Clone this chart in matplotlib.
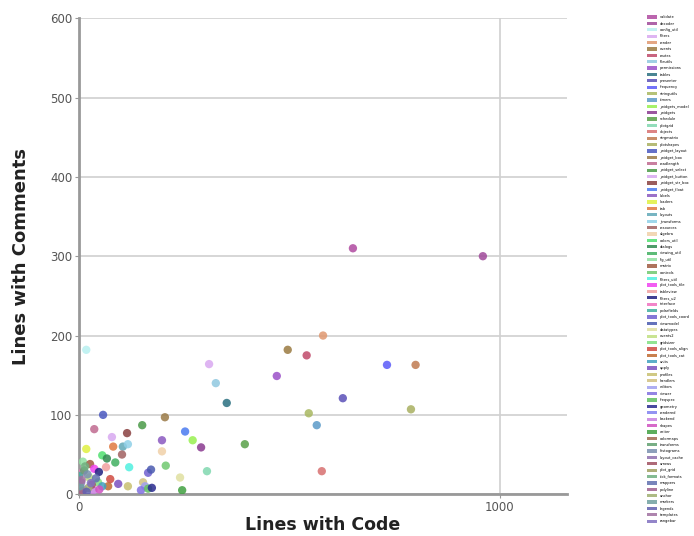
"""Scatter of comment lines vs code lines per module."""
import matplotlib
matplotlib.use("Agg")
import matplotlib.pyplot as plt
from matplotlib.patches import Patch

# module names (legend order)
modules = [
    "validate", "decoder", "config_util", "filters", "render", "events",
    "routes", "fileutils", "permissions", "tables", "presenter", "frequency",
    "stringutils", "timers", "_widgets_model", "_widgets", "schedule", "plotgrid",
    "objects", "strgmatrix", "plotshapes", "_widget_layout", "_widget_box",
    "readlength", "_widget_select", "_widget_button", "_widget_str_box",
    "_widget_float", "labels", "loaders", "tab", "layouts", "_transforms",
    "resources", "algebra", "colors_util", "dialogs", "viewing_util", "fig_util",
    "matrix", "controls", "filters_util", "plot_tools_tile", "tableview", "filters_u2",
    "interface", "polarfields", "plot_tools_coord", "viewmodel", "datatypes",
    "events2", "gridsizer", "plot_tools_align", "plot_tools_cat", "units",
    "apply", "profiles", "handlers", "editors", "viewer", "freqspec", "geometry",
    "rendered", "backend", "shapes", "writer", "colormaps", "transforms",
    "histograms", "layout_cache", "arrows", "plot_grid", "tick_formats", "mappers",
    "polyline", "anchor", "markers", "legends", "templates", "rangebar",
]

# lines of code per module
code_lines = [
    651, 960, 17, 309, 580, 496, 541, 325, 470, 351, 627, 732, 546, 565,
    270, 290, 394, 304, 577, 800, 789, 57, 204, 36, 150, 78, 114, 252,
    197, 17, 81, 104, 116, 102, 197, 55, 66, 86, 9, 26, 206, 119, 36, 64,
    47, 9, 0, 164, 171, 240, 24, 45, 74, 69, 55, 93, 116, 152, 157, 147,
    164, 173, 10, 34, 48, 245, 0, 12, 20, 5, 30, 3, 14, 40, 8, 22, 2, 18, 6, 28,
]

# lines with comments per module
comment_lines = [
    310, 300, 182, 164, 200, 182, 175, 140, 149, 115, 121, 163, 102, 87,
    68, 59, 63, 29, 29, 163, 107, 100, 97, 82, 87, 72, 77, 79,
    68, 57, 60, 60, 63, 50, 54, 49, 45, 40, 41, 38, 36, 34, 32, 34,
    28, 28, 23, 27, 31, 21, 21, 15, 19, 10, 10, 13, 10, 15, 10, 5,
    7, 8, 6, 5, 6, 5, 0, 30, 25, 15, 12, 2, 35, 20, 4, 8, 10, 3, 18, 14,
]

colors = [
    "#b04aa0", "#a04a9a", "#b8f0f0", "#d9a8f0", "#e09870", "#9a7a40",
    "#c04a6a", "#90c8e0", "#9a50c8", "#2a7080", "#5a50b8", "#5a5af8",
    "#a8b860", "#5a9ac8", "#98f050", "#8a3a90", "#58a048", "#80d8b0",
    "#d87070", "#c07a50", "#a8b060", "#4a58c0", "#9a7a48", "#c06a90",
    "#4a9a48", "#d8a8f0", "#8a4040", "#4a7af0", "#8a58c0", "#e0f040",
    "#e07840", "#60a8b8", "#90d0e8", "#a06060", "#f0d0a8", "#50e070",
    "#308a50", "#40b060", "#90e0a0", "#a05a40", "#70c870", "#50f0e0",
    "#f040f0", "#f0a0a0", "#202080", "#f070c0", "#40b0a0", "#7060d0",
    "#4a5ab0", "#e0e0a0", "#c0e080", "#80e080", "#d04a40", "#c06a30",
    "#40a0c0", "#7a50c0", "#c8c070", "#d0c080", "#a0a0f0", "#8070e0",
    "#60c060", "#2a2a90", "#8080f0", "#c880e0", "#d050c0", "#40a040",
    "#a06a50", "#60a070", "#7a90b0", "#9070b0", "#a05060", "#a0a060",
    "#70b080", "#6070b0", "#a06090", "#a0b070", "#70a0a0", "#6060b0",
    "#a070a0", "#8070c0",
]

fig = plt.figure(figsize=(6.94, 5.36), dpi=100)
ax = fig.add_axes([0.114, 0.078, 0.703, 0.888])

ax.scatter(code_lines, comment_lines, c=colors, s=36, alpha=0.85,
           edgecolors="none", zorder=3)

ax.set_xlim(0, 1160)
ax.set_ylim(0, 600)
ax.set_xticks([0, 1000])
ax.set_yticks(range(0, 601, 100))
ax.grid(True, color="#d0d0d0", linewidth=1.2)
ax.set_axisbelow(True)

for side in ("top", "right"):
    ax.spines[side].set_visible(False)
for side in ("left", "bottom"):
    ax.spines[side].set_color("#999999")
    ax.spines[side].set_linewidth(2)
ax.tick_params(colors="#999999", labelcolor="#555555", labelsize=8.5, length=3,
               pad=2)

ax.set_xlabel("Lines with Code", fontsize=12.5, fontweight="bold", color="#222222",
              labelpad=1)
ax.set_ylabel("Lines with Comments", fontsize=13, fontweight="bold", color="#222222",
              labelpad=14)

# legend, one coloured box per module
handles = [Patch(facecolor=c, alpha=0.85, edgecolor="none") for c in colors]
fig.legend(handles, modules, loc="upper left", bbox_to_anchor=(0.93, 0.975),
           frameon=False, fontsize=2.6, labelspacing=0.66, handlelength=2.6,
           handleheight=1.0, handletextpad=0.8, borderpad=0)

fig.savefig("out.png", dpi=100)
plt.close(fig)
